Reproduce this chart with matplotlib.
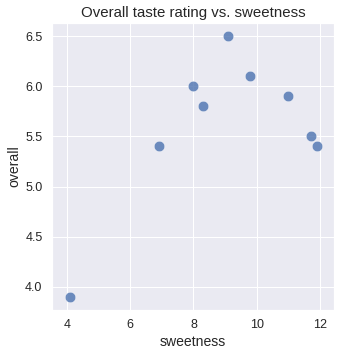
import numpy as np
import matplotlib
matplotlib.use("Agg")
import matplotlib.pyplot as plt
import seaborn as sns

sweetness = [4.1, 6.9, 8.0, 8.3, 9.1, 9.8, 11.0, 11.7, 11.9]
overall = [3.9, 5.4, 6.0, 5.8, 6.5, 6.1, 5.9, 5.5, 5.4]

sns.set_theme(style="darkgrid")
plt.rcParams['font.family'] = ['Liberation Sans', 'DejaVu Sans']

fig, ax = plt.subplots(figsize=(340 / 72, 357 / 72), dpi=72)
ax.scatter(sweetness, overall, s=110, color="#4c72b0", alpha=0.8, edgecolor="white", linewidth=0.5)
ax.set_xticks([4, 6, 8, 10, 12])
ax.set_xlim(3.53, 12.44)
ax.tick_params(labelsize=12.5)
ax.set_xlabel("sweetness", fontsize=14)
ax.set_ylabel("overall", fontsize=14)
ax.set_title("Overall taste rating vs. sweetness", fontsize=15)
fig.subplots_adjust(left=52 / 340, right=334 / 340, top=1 - 23 / 357, bottom=1 - 310 / 357)
fig.savefig("out.png", dpi=72)
